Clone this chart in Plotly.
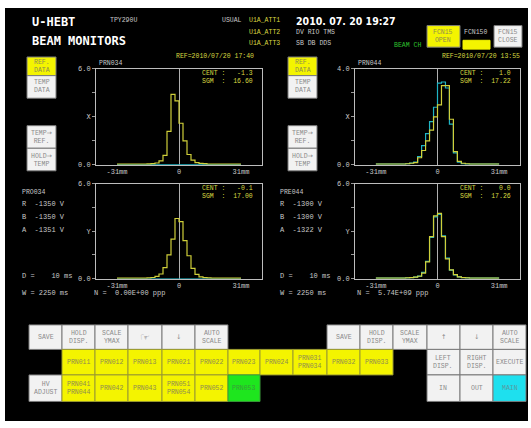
import plotly.graph_objects as go

W, H = 531, 428

# ---------------- data ----------------
bins_mm = [-31, -29, -27, -25, -23, -21, -19, -17, -15, -13, -11, -9, -7, -5, -3, -1,
           1, 3, 5, 7, 9, 11, 13, 15, 17, 19, 21, 23, 25, 27, 29, 31]

prn034_x_ref = [0.06, 0.06, 0.06, 0.06, 0.06, 0.06, 0.06, 0.06, 0.07, 0.08, 0.12, 0.25, 0.6, 2.1, 4.4, 4.0,
                2.6, 1.5, 0.65, 0.3, 0.15, 0.1, 0.08, 0.06, 0.06, 0.06, 0.06, 0.06, 0.06, 0.06, 0.06, 0.06]
prn034_x_tmp = [0.0] * 32

prn044_x_ref = [0.04, 0.04, 0.04, 0.04, 0.04, 0.04, 0.04, 0.04, 0.05, 0.07, 0.1, 0.3, 0.6, 1.0, 1.45, 2.0,
                2.5, 3.3, 3.3, 1.9, 0.55, 0.15, 0.07, 0.05, 0.04, 0.04, 0.04, 0.04, 0.04, 0.04, 0.04, 0.04]
prn044_x_tmp = [0.04, 0.04, 0.04, 0.04, 0.04, 0.04, 0.04, 0.04, 0.05, 0.08, 0.12, 0.35, 0.8, 1.3, 1.8, 2.4,
                3.4, 3.45, 3.2, 1.7, 0.5, 0.12, 0.05, 0.04, 0.04, 0.04, 0.04, 0.04, 0.04, 0.04, 0.04, 0.04]

prn034_y_ref = [0.04, 0.04, 0.04, 0.04, 0.04, 0.04, 0.04, 0.04, 0.05, 0.08, 0.15, 0.3, 0.7, 1.5, 2.5, 3.8,
                3.6, 2.4, 1.45, 0.65, 0.28, 0.12, 0.07, 0.05, 0.04, 0.04, 0.04, 0.04, 0.04, 0.04, 0.04, 0.04]
prn034_y_tmp = [0.0] * 32

prn044_y_ref = [0.04, 0.04, 0.04, 0.04, 0.04, 0.04, 0.04, 0.04, 0.05, 0.07, 0.1, 0.16, 0.36, 1.06, 2.66, 3.96,
                4.12, 2.66, 1.26, 0.56, 0.26, 0.12, 0.07, 0.05, 0.04, 0.04, 0.04, 0.04, 0.04, 0.04, 0.04, 0.04]
prn044_y_tmp = [0.04, 0.04, 0.04, 0.04, 0.04, 0.04, 0.04, 0.04, 0.05, 0.07, 0.1, 0.17, 0.4, 1.1, 2.6, 3.9,
                4.05, 2.7, 1.3, 0.55, 0.25, 0.12, 0.07, 0.05, 0.04, 0.04, 0.04, 0.04, 0.04, 0.04, 0.04, 0.04]

panels = [
    # name, ref, tmp, ymax, axis letter, cent, sgm
    ("PRN034", prn034_x_ref, prn034_x_tmp, 6.0, "X", "-1.3", "16.60"),
    ("PRN044", prn044_x_ref, prn044_x_tmp, 4.0, "X", "1.0", "17.22"),
    ("", prn034_y_ref, prn034_y_tmp, 6.0, "Y", "-0.1", "17.00"),
    ("", prn044_y_ref, prn044_y_tmp, 6.0, "Y", "0.0", "17.26"),
]
xtick_vals = [-31, 0, 31]
xtick_text = ["-31mm", "0", "31mm"]

# ---------------- layout helpers ----------------
MONO = "Liberation Mono, DejaVu Sans Mono, monospace"
HEADM = "DejaVu Sans Mono, Liberation Mono, monospace"
HEAD = "Liberation Sans Narrow, DejaVu Sans Condensed, Liberation Sans, sans-serif"
YEL_T = "#d8d840"
GREY_T = "#c8c8c8"
BTN_T = "#8a8a8a"
YBTN_T = "#8c8c50"
YELLOW = "#f4f400"
WHITE_B = "#f2f2f2"


def AR(c, size=None):
    st = "font-family:DejaVu Sans"
    if size:
        st += ";font-size:%dpx" % size
    return '<span style="' + st + '">' + c + '</span>'


fig = go.Figure()
shapes = []
annos = []


def px(x):
    return x / W


def py(y):
    return 1 - y / H


def T(x, y, text, size=7, color=GREY_T, anchor="left", family=MONO, bold=False):
    if bold:
        text = "<b>" + text + "</b>"
    annos.append(dict(x=px(x), y=py(y), xref="paper", yref="paper", text=text, showarrow=False,
                      xanchor=anchor, yanchor="middle", align="center",
                      font=dict(size=size, color=color, family=family)))


def B(x0, y0, x1, y1, fill, text="", tcolor=BTN_T, size=6.5, line="#7a7a7a"):
    shapes.append(dict(type="rect", xref="paper", yref="paper", x0=px(x0), x1=px(x1), y0=py(y1), y1=py(y0),
                       fillcolor=fill, line=dict(color=line, width=1), layer="above"))
    if text:
        annos.append(dict(x=px((x0 + x1) / 2), y=py((y0 + y1) / 2), xref="paper", yref="paper", text=text,
                          showarrow=False, xanchor="center", yanchor="middle", align="center",
                          font=dict(size=size, color=tcolor, family=MONO)))


# black screen
shapes.append(dict(type="rect", xref="paper", yref="paper", x0=px(5), x1=px(528), y0=py(425), y1=py(4),
                   fillcolor="black", line=dict(width=0), layer="below"))

# ---------------- plots ----------------
boxes = [(96, 66, 262, 164), (355, 66, 520, 164), (96, 183, 262, 280), (355, 183, 520, 280)]
for i, ((name, ref, tmp, ymax, lab, cent, sgm), (x0, y0, x1, y1)) in enumerate(zip(panels, boxes)):
    k = "" if i == 0 else str(i + 1)
    xa, ya = "x" + k, "y" + k
    fig.add_trace(go.Scatter(x=bins_mm, y=tmp, mode="lines", line=dict(color="#1fb4c4", width=1.2, shape="hvh"),
                             xaxis=xa, yaxis=ya, showlegend=False, hoverinfo="skip"))
    fig.add_trace(go.Scatter(x=bins_mm, y=ref, mode="lines", line=dict(color="#cfcf3a", width=1.2, shape="hvh"),
                             xaxis=xa, yaxis=ya, showlegend=False, hoverinfo="skip"))
    fig.layout["xaxis" + k] = dict(domain=[px(x0), px(x1)], anchor=ya, range=[-41.5, 41.5],
                                   showgrid=False, zeroline=True, zerolinecolor="#b0b0b0", zerolinewidth=1,
                                   showline=True, mirror=True, linecolor="#bdbdbd", linewidth=1,
                                   tickvals=xtick_vals, ticktext=xtick_text, ticks="",
                                   tickfont=dict(size=7, color=GREY_T, family=MONO), fixedrange=True)
    fig.layout["yaxis" + k] = dict(domain=[py(y1), py(y0)], anchor=xa, range=[0, ymax],
                                   showgrid=False, zeroline=False, showline=True, mirror=True,
                                   linecolor="#bdbdbd", linewidth=1,
                                   tickvals=[0, ymax * 0.25, ymax * 0.5, ymax * 0.75, ymax],
                                   ticktext=["0.0", "", lab, "", "%.1f" % ymax],
                                   ticks="outside", ticklen=3, tickcolor="#9a9a9a",
                                   tickfont=dict(size=7, color=GREY_T, family=MONO), fixedrange=True)
    if name:
        T(x0 + 1, y0 - 5, name, size=6.5)
    T(x1 - 7, y0 + 5, "CENT :%7s" % cent, size=6.5, color=YEL_T, anchor="right")
    T(x1 - 7, y0 + 13, "SGM  :%7s" % sgm, size=6.5, color=YEL_T, anchor="right")

# ---------------- header ----------------
T(30, 18, "U-HEBT", size=12, color="white", family=HEADM, bold=True)
T(30, 38, "BEAM MONITORS", size=12, color="white", family=HEADM, bold=True)
T(108, 17, "TPY290U", size=6.5)
T(220, 17, "USUAL", size=6.5)
T(247, 17, "U1A_ATT1", size=6.5, color=YEL_T)
T(247, 29, "U1A_ATT2", size=6.5, color=YEL_T)
T(247, 40, "U1A_ATT3", size=6.5, color=YEL_T)
T(294, 17, "2010. 07. 20 19:27", size=10.5, color="white", family=HEAD, bold=True)
T(294, 29, "DV RIO TMS", size=6.5)
T(294, 40, "SB DB DDS", size=6.5)
T(392, 42, "BEAM CH", size=6.5, color="#2fc02f")
B(427, 22, 460, 44, YELLOW, "FCN15<br>OPEN", tcolor=YBTN_T, size=6.5)
T(462, 29, "FCN150", size=6.5)
B(463, 37, 490, 46, YELLOW, line=YELLOW)
B(494, 22, 522, 44, WHITE_B, "FCN15<br>CLOSE", size=6.5)
T(256, 53, "REF=2010/07/20 17:40", size=6.5, color=YEL_T, anchor="right")
T(522, 53, "REF=2010/07/20 13:55", size=6.5, color=YEL_T, anchor="right")

# side buttons
for bx in (27, 288):
    B(bx, 54, bx + 29, 73, YELLOW, "REF.<br>DATA", tcolor=YBTN_T)
    B(bx, 73, bx + 29, 96, WHITE_B, "TEMP<br>DATA")
    B(bx, 124, bx + 29, 147, WHITE_B, "TEMP" + AR("→") + "<br>REF.")
    B(bx, 147, bx + 29, 170, WHITE_B, "HOLD" + AR("→") + "<br>TEMP")

# info blocks
for bx, nm, r, b, a, n in ((20, "PRO034", "-1350", "-1350", "-1351", "0.00E+00"),
                           (278, "PRE044", "-1300", "-1300", "-1322", "5.74E+09")):
    T(bx, 192, nm, size=6.5)
    T(bx, 204, "R  %s V" % r, size=7)
    T(bx, 217, "B  %s V" % b, size=7)
    T(bx, 230, "A  %s V" % a, size=7)
    T(bx, 277, "D =    10 ms", size=7)
    T(bx, 295, "W = 2250 ms", size=7)
    T(bx + 72 if bx == 20 else 355, 295, "N =  %s ppp" % n, size=7)

# ---------------- bottom grid ----------------
cols = [29, 62, 95, 128, 162, 195, 228, 260, 293, 327, 360, 393, 427, 460, 493, 526]
r1, r2, r3, r4 = 327, 352, 378, 405
row1 = ["SAVE", "HOLD<br>DISP.", "SCALE<br>YMAX", AR("☞", 11), AR("↓"), "AUTO<br>SCALE"]
for j, t in enumerate(row1):
    B(cols[j], r1, cols[j + 1], r2, WHITE_B, t)
row1r = ["SAVE", "HOLD<br>DISP.", "SCALE<br>YMAX", AR("↑"), AR("↓"), "AUTO<br>SCALE"]
for j, t in enumerate(row1r):
    B(cols[j + 9], r1, cols[j + 10], r2, WHITE_B, t)
row2 = ["PRN011", "PRN012", "PRN013", "PRN021", "PRN022", "PRN023", "PRN024", "PRN031<br>PRN034",
        "PRN032", "PRN033"]
for j, t in enumerate(row2):
    B(cols[j + 1], r2, cols[j + 2], r3, YELLOW, t, tcolor=YBTN_T, line="#9a9a30")
row2r = ["LEFT<br>DISP.", "RIGHT<br>DISP.", "EXECUTE"]
for j, t in enumerate(row2r):
    B(cols[j + 12], r2, cols[j + 13], r3, WHITE_B, t)
B(cols[0], r3, cols[1], r4, WHITE_B, "HV<br>ADJUST")
row3 = ["PRN041<br>PRN044", "PRN042", "PRN043", "PRN051<br>PRN054", "PRN052"]
for j, t in enumerate(row3):
    B(cols[j + 1], r3, cols[j + 2], r4, YELLOW, t, tcolor=YBTN_T, line="#9a9a30")
B(cols[6], r3, cols[7], r4, "#1ee61e", "PRN053", tcolor="#3a9a3a", line="#3a9a3a")
B(cols[12], r3, cols[13], r4, WHITE_B, "IN")
B(cols[13], r3, cols[14], r4, WHITE_B, "OUT")
B(cols[14], r3, cols[15], r4, "#1ee0ee", "MAIN", tcolor="#5a9aa0")

fig.update_layout(width=W, height=H, margin=dict(l=0, r=0, t=0, b=0), autosize=False,
                  paper_bgcolor="white", plot_bgcolor="black", showlegend=False,
                  shapes=shapes, annotations=annos)
fig.write_html("out.html", config={"displayModeBar": False},
               post_script="document.body.style.margin='0';document.body.style.overflow='hidden';")
